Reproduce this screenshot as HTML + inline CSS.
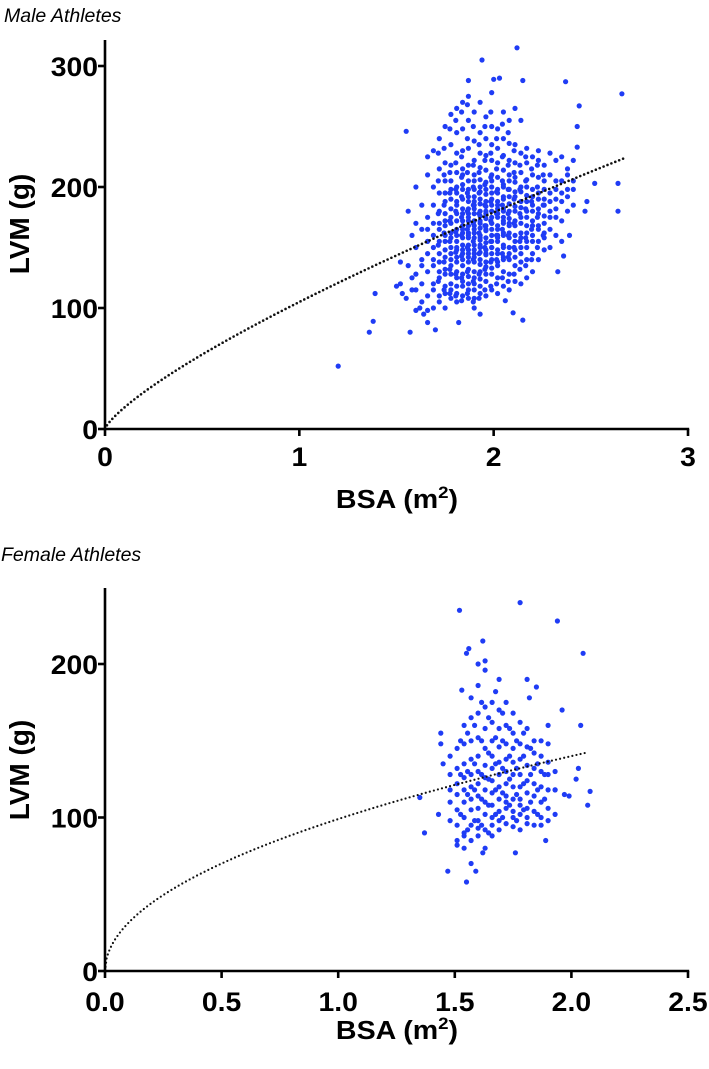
<!DOCTYPE html>
<html><head><meta charset="utf-8">
<style>
html,body{margin:0;padding:0;background:#fff;}
svg{display:block;}
.t{font-family:"Liberation Sans",Arial,sans-serif;}
</style></head>
<body>
<svg id="chart" width="709" height="1069" viewBox="0 0 709 1069" xmlns="http://www.w3.org/2000/svg">
<text class="t" x="4" y="22" font-size="19.5" font-style="italic">Male Athletes</text>
<text class="t" x="1" y="561" font-size="19.5" font-style="italic">Female Athletes</text>
<g id="male"></g>
<g id="female"></g>
</svg>
<script>
// ---- Male data (BSA columns with LVM values) ----
const maleColBSA = [1.60,1.63,1.66,1.69,1.72,1.75,1.78,1.81,1.84,1.87,1.90,1.93,1.96,1.99,2.02,2.05,2.08,2.11,2.14,2.17,2.20,2.23,2.26,2.29,2.32,2.35,2.38,2.41];
const maleColLVM = [
[115,150,170,200,128,98],
[120,140,165,185,105,135],
[110,130,155,175,210,98,145,165,225],
[120,140,160,185,200,230,100,150,170,115,135],
[105,125,145,165,180,195,215,240,130,155,170,110,138],
[100,118,132,148,160,172,188,205,220,250,128,142,155,168,178,195,112],
[108,120,135,150,162,175,190,205,218,235,260,128,145,158,170,182,198,140,115],
[105,118,130,142,155,165,178,188,200,212,228,245,265,125,138,150,160,172,185,195,148,112],
[110,122,135,145,158,168,178,190,202,215,230,248,270,128,140,152,162,172,182,198,210,118,148,165],
[108,120,132,142,152,162,172,182,192,205,218,232,255,275,126,138,148,158,168,178,188,198,115,145,160,175],
[100,115,125,138,148,158,168,178,188,198,210,222,238,262,130,142,152,162,172,182,192,205,120,145,165,185,108],
[112,124,136,146,156,166,176,186,196,206,216,228,245,270,130,140,150,160,170,180,190,200,118,152,172,158],
[110,122,134,144,154,164,174,184,194,204,214,226,240,258,128,138,148,158,168,178,188,198,145,165,180],
[115,128,140,150,160,170,180,190,200,210,222,235,250,278,133,145,155,165,175,185,195,205,150,170],
[112,125,138,148,158,168,178,188,198,208,220,232,248,135,145,155,165,175,185,195,160,182],
[118,130,142,152,162,172,182,192,202,214,226,240,262,140,150,160,170,180,190,200,175],
[115,128,140,150,162,174,186,198,210,222,236,255,145,158,168,180,192,205,170],
[122,135,148,160,172,184,196,208,220,235,265,142,155,168,180,192,204],
[120,138,150,162,175,188,200,212,228,145,158,170,183,196,255],
[125,140,155,168,180,193,206,220,150,162,175,188,200,232],
[130,145,160,172,185,198,210,225,155,168,180,192],
[140,155,168,182,195,208,222,165,178,190,230],
[148,162,176,190,205,218,170,185,198,158],
[150,165,180,195,210,228,175,188],
[160,175,190,205,222,182,198],
[172,188,205,225,195,155],
[180,198,215,192,210],
[185,205,222,198]
];
const maleCol2BSA = [1.715,1.745,1.775,1.805,1.835,1.865,1.895,1.925,1.955,1.985,2.015,2.045,2.075,2.105,2.135,2.165,2.195,2.225,2.255];
const maleCol2LVM = [
[122,152,178,205,228],
[115,138,162,185,210,232],
[112,132,155,172,195,212,248],
[110,128,146,163,180,198,220,255],
[106,125,143,160,175,192,208,225,262],
[112,130,150,165,180,195,212,240,268],
[105,122,140,155,170,185,200,218,250],
[108,128,145,162,178,195,212,235],
[115,132,150,168,185,202,222,250],
[118,138,155,172,188,208,228,262],
[120,140,160,178,196,215,240],
[125,145,165,185,205,225,252],
[122,142,160,178,198,218,245],
[128,150,170,190,212,230],
[132,155,178,198,218],
[135,158,182,205,225],
[140,165,188,215],
[150,175,200,218],
[160,185,210]
];
const maleExtraBSA = [1.20,1.36,1.38,1.39,1.57,1.55,1.94,2.12,1.87,2.00,2.03,2.15,2.37,2.66,2.64,2.64,2.52,2.47,2.48,2.44,2.43,2.43,2.36,2.33,2.39,1.70,1.82,1.93,2.15,2.10,2.06,1.50,1.52,1.53,1.55,1.56,1.58,1.52,1.56,1.58,1.62,1.64,1.66,1.58];
const maleExtraLVM = [52,80,89,112,80,246,305,315,288,289,290,288,287,277,203,180,203,180,188,267,250,233,143,130,160,82,88,95,90,96,106,118,120,112,108,135,160,138,180,115,100,95,88,125];
const maleFit = [105, 0.77, 2.68];   // a, b, max BSA
const maleXTicks = [0,1,2,3];
const maleYTicks = [0,100,200,300];

// ---- Female data ----
const femColBSA = [1.48,1.51,1.54,1.57,1.60,1.63,1.66,1.69,1.72,1.75,1.78,1.81,1.84,1.87,1.90,1.93];
const femColLVM = [
[98,110,118,128,140],
[82,95,105,115,122,132,145,85],
[80,90,100,110,118,126,135,148,160,88],
[85,95,105,112,120,128,138,150,165,178],
[88,98,106,114,122,130,140,152,168,186,93],
[80,92,102,110,118,126,134,145,158,172,196],
[88,100,108,116,124,132,140,150,162,175,95],
[92,104,112,120,128,136,146,158,170,190,98],
[96,106,114,122,130,138,148,160,175,110],
[94,104,112,120,128,136,145,155,168,100],
[92,102,112,120,128,138,148,162,108],
[96,106,116,124,134,146,158,100],
[95,104,114,122,132,142,150],
[100,110,120,130,140,150,95],
[98,106,118,128,136,148,160],
[102,118,130]
];
const femCol2BSA = [1.525,1.555,1.585,1.615,1.645,1.675,1.705,1.735,1.765,1.795,1.825,1.855,1.885];
const femCol2LVM = [
[102,128,150],
[92,115,130,155],
[98,118,135,160],
[95,112,128,150,175],
[90,108,125,142,165],
[102,118,135,152,182],
[100,116,132,150,168],
[108,125,140,158],
[98,115,132,150],
[105,122,140,155],
[110,128,145],
[102,118,135],
[112,128]
];
const femExtraBSA = [1.35,1.37,1.44,1.44,1.45,1.43,1.47,1.52,1.55,1.56,1.62,1.63,1.60,1.53,1.78,1.94,2.05,2.07,2.08,2.04,2.02,2.03,1.96,1.55,1.57,1.59,1.76,1.62,1.89,1.99,1.97,1.93,1.85,1.82,1.81];
const femExtraLVM = [113,90,155,148,135,102,65,235,207,210,215,202,200,183,240,228,207,108,117,160,125,132,170,58,70,65,77,77,85,114,115,118,185,178,190];
const femFit = [99, 0.50, 2.07];
const femXTicks = [0,0.5,1,1.5,2,2.5];
const femYTicks = [0,100,200];

const NS = "http://www.w3.org/2000/svg";
function mk(tag, attrs, parent){
  const e = document.createElementNS(NS, tag);
  for (const k in attrs) e.setAttribute(k, attrs[k]);
  parent.appendChild(e); return e;
}

function drawPanel(g, cfg){
  const sx = v => cfg.x0 + (v - cfg.xmin) / (cfg.xmax - cfg.xmin) * (cfg.x1 - cfg.x0);
  const sy = v => cfg.y0 - v / cfg.ymaxTick * (cfg.y0 - cfg.yTopTick);
  const pts = document.createElementNS(NS,'g');
  
  
  g.appendChild(pts);
  const addPt = (x, y) => {
    const c = mk('circle', {cx: sx(x).toFixed(1), cy: sy(y).toFixed(1), r: 2.6, fill: '#1f3cf5'}, pts);
    
    
  };
  cfg.cols.forEach(set => set[0].forEach((x, i) => set[1][i].forEach(y => addPt(x, y))));
  cfg.extraBSA.forEach((x, i) => addPt(x, cfg.extraLVM[i]));
  // fit curve
  let d = '';
  for (let i = 0; i <= 300; i++) {
    const b = cfg.fit[2] * i / 300;
    const v = cfg.fit[0] * Math.pow(b, cfg.fit[1]);
    d += (i ? 'L' : 'M') + sx(b).toFixed(2) + ',' + sy(v).toFixed(2);
  }
  const fc = mk('path', {d: d, fill: 'none', stroke: '#111', 'stroke-width': cfg.curveW, 'stroke-dasharray': '0 4.2', 'stroke-linecap': 'round'}, g);
  
  
  // axes
  const ya = mk('line', {x1: cfg.x0, y1: cfg.yAxisTop, x2: cfg.x0, y2: cfg.y0 + 1.2, stroke: '#000', 'stroke-width': 2.6}, g);
  
  
  const xa = mk('line', {x1: cfg.x0 - 1.2, y1: cfg.y0, x2: cfg.x1 + 1.2, y2: cfg.y0, stroke: '#000', 'stroke-width': 2.6}, g);
  
  
  cfg.xTicks.forEach(t => {
    const x = sx(t);
    mk('line', {x1: x, y1: cfg.y0, x2: x, y2: cfg.y0 + 7, stroke: '#000', 'stroke-width': 2.6}, g);
    const tx = mk('text', {x: x, y: cfg.y0 + cfg.xTickDy, 'text-anchor': 'middle', 'font-size': 27, 'font-weight': 'bold', class: 't', transform: `translate(${x},0) scale(1.05,1) translate(${-x},0)`}, g);
    tx.textContent = cfg.xFmt(t);
    
    
  });
  cfg.yTicks.forEach(t => {
    const y = sy(t);
    mk('line', {x1: cfg.x0 - 7, y1: y, x2: cfg.x0, y2: y, stroke: '#000', 'stroke-width': 2.6}, g);
    const tx = mk('text', {x: 98, y: y + 10, 'text-anchor': 'end', 'font-size': 27, 'font-weight': 'bold', class: 't', transform: `translate(98,0) scale(1.05,1) translate(-98,0)`}, g);
    tx.textContent = t;
    
    
  });
  const xl = mk('text', {x: 0, y: 0, 'text-anchor': 'middle', 'font-size': 26, 'font-weight': 'bold', class: 't', transform: `translate(397,${cfg.xLabelY}) scale(1.1,1)`}, g);
  xl.innerHTML = 'BSA (m<tspan dy="-10" font-size="17">2</tspan><tspan dy="10">)</tspan>';
  
  
  const yl = mk('text', {x: 0, y: 0, 'text-anchor': 'middle', 'font-size': 28, 'font-weight': 'bold', class: 't', transform: `translate(29,${cfg.yLabelY}) rotate(-90)`}, g);
  yl.textContent = 'LVM (g)';
  
  
}

drawPanel(document.getElementById('male'), {
  prefix: 'male', x0: 105, x1: 688, xmin: 0, xmax: 3, y0: 429, yTopTick: 66, ymaxTick: 300, yAxisTop: 40,
  cols: [[maleColBSA, maleColLVM], [maleCol2BSA, maleCol2LVM]], extraBSA: maleExtraBSA, extraLVM: maleExtraLVM, fit: maleFit, curveW: 2.6,
  xTicks: maleXTicks, yTicks: maleYTicks, xFmt: t => String(t), xTickDy: 37, xLabelY: 508, yLabelY: 224
});
drawPanel(document.getElementById('female'), {
  prefix: 'female', x0: 105, x1: 688, xmin: 0, xmax: 2.5, y0: 971, yTopTick: 664, ymaxTick: 200, yAxisTop: 588,
  cols: [[femColBSA, femColLVM], [femCol2BSA, femCol2LVM]], extraBSA: femExtraBSA, extraLVM: femExtraLVM, fit: femFit, curveW: 2.2,
  xTicks: femXTicks, yTicks: femYTicks, xFmt: t => t.toFixed(1), xTickDy: 40, xLabelY: 1039, yLabelY: 770
});
</script>
</body></html>
